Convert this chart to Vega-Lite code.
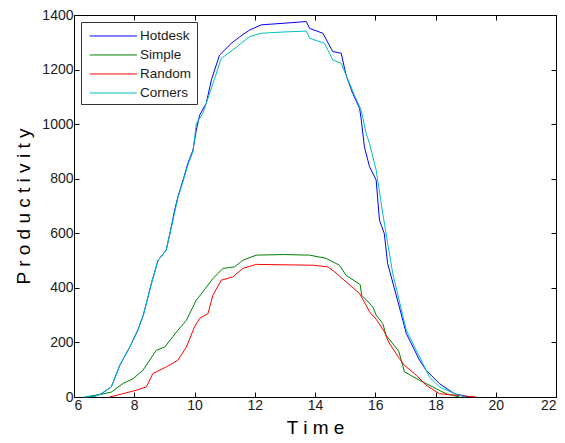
{
  "$schema": "https://vega.github.io/schema/vega-lite/v6.json",
  "width": 482,
  "height": 382,
  "autosize": {"type": "none"},
  "padding": {"left": 74, "top": 15, "right": 9, "bottom": 46},
  "background": "white",
  "config": {
    "font": "Liberation Sans",
    "view": {"stroke": "black", "strokeWidth": 1},
    "axis": {
      "grid": false,
      "domainColor": "black",
      "tickColor": "black",
      "tickSize": -5,
      "labelColor": "#1a1a1a",
      "labelFont": "Liberation Sans",
      "labelFontSize": 14,
      "labelFontWeight": "normal",
      "titleFont": "Liberation Sans",
      "titleFontSize": 19,
      "titleFontWeight": "normal",
      "titleColor": "black"
    },
    "legend": {
      "orient": "none",
      "legendX": 7,
      "legendY": 7,
      "strokeColor": "#333333",
      "fillColor": "white",
      "padding": 5,
      "rowPadding": 4,
      "symbolType": "M-0.6,0.06L5.3,0.06",
      "symbolStrokeWidth": 1,
      "symbolOpacity": 1,
      "symbolSize": 256,
      "labelFont": "Liberation Sans",
      "labelFontSize": 13.5,
      "labelColor": "#1a1a1a",
      "labelOffset": 37
    }
  },
  "data": {
    "values": [
      {"series": "Hotdesk", "t": 6.4, "p": 0},
      {"series": "Hotdesk", "t": 6.7, "p": 3},
      {"series": "Hotdesk", "t": 6.91, "p": 12},
      {"series": "Hotdesk", "t": 7.24, "p": 37},
      {"series": "Hotdesk", "t": 7.52, "p": 116},
      {"series": "Hotdesk", "t": 7.85, "p": 183},
      {"series": "Hotdesk", "t": 8.12, "p": 245},
      {"series": "Hotdesk", "t": 8.3, "p": 300},
      {"series": "Hotdesk", "t": 8.57, "p": 416},
      {"series": "Hotdesk", "t": 8.79, "p": 501},
      {"series": "Hotdesk", "t": 9.06, "p": 538},
      {"series": "Hotdesk", "t": 9.23, "p": 624},
      {"series": "Hotdesk", "t": 9.34, "p": 685},
      {"series": "Hotdesk", "t": 9.45, "p": 734},
      {"series": "Hotdesk", "t": 9.62, "p": 795},
      {"series": "Hotdesk", "t": 9.78, "p": 856},
      {"series": "Hotdesk", "t": 9.95, "p": 905},
      {"series": "Hotdesk", "t": 10.06, "p": 978},
      {"series": "Hotdesk", "t": 10.17, "p": 1033},
      {"series": "Hotdesk", "t": 10.39, "p": 1076},
      {"series": "Hotdesk", "t": 10.56, "p": 1162},
      {"series": "Hotdesk", "t": 10.83, "p": 1253},
      {"series": "Hotdesk", "t": 11.22, "p": 1296},
      {"series": "Hotdesk", "t": 11.5, "p": 1320},
      {"series": "Hotdesk", "t": 11.83, "p": 1345},
      {"series": "Hotdesk", "t": 12.22, "p": 1364},
      {"series": "Hotdesk", "t": 13.0, "p": 1370},
      {"series": "Hotdesk", "t": 13.71, "p": 1376},
      {"series": "Hotdesk", "t": 13.82, "p": 1351},
      {"series": "Hotdesk", "t": 14.26, "p": 1333},
      {"series": "Hotdesk", "t": 14.59, "p": 1266},
      {"series": "Hotdesk", "t": 14.87, "p": 1260},
      {"series": "Hotdesk", "t": 15.03, "p": 1180},
      {"series": "Hotdesk", "t": 15.25, "p": 1113},
      {"series": "Hotdesk", "t": 15.48, "p": 1058},
      {"series": "Hotdesk", "t": 15.53, "p": 1021},
      {"series": "Hotdesk", "t": 15.64, "p": 917},
      {"series": "Hotdesk", "t": 15.81, "p": 844},
      {"series": "Hotdesk", "t": 16.03, "p": 795},
      {"series": "Hotdesk", "t": 16.14, "p": 648},
      {"series": "Hotdesk", "t": 16.3, "p": 599},
      {"series": "Hotdesk", "t": 16.41, "p": 490},
      {"series": "Hotdesk", "t": 16.8, "p": 330},
      {"series": "Hotdesk", "t": 17.03, "p": 233},
      {"series": "Hotdesk", "t": 17.47, "p": 135},
      {"series": "Hotdesk", "t": 17.69, "p": 98},
      {"series": "Hotdesk", "t": 18.13, "p": 49},
      {"series": "Hotdesk", "t": 18.63, "p": 12},
      {"series": "Hotdesk", "t": 19.13, "p": 0},

      {"series": "Simple", "t": 6.35, "p": 0},
      {"series": "Simple", "t": 6.91, "p": 10},
      {"series": "Simple", "t": 7.24, "p": 18},
      {"series": "Simple", "t": 7.62, "p": 49},
      {"series": "Simple", "t": 7.96, "p": 67},
      {"series": "Simple", "t": 8.29, "p": 98},
      {"series": "Simple", "t": 8.73, "p": 171},
      {"series": "Simple", "t": 9.01, "p": 183},
      {"series": "Simple", "t": 9.4, "p": 238},
      {"series": "Simple", "t": 9.73, "p": 281},
      {"series": "Simple", "t": 10.06, "p": 355},
      {"series": "Simple", "t": 10.17, "p": 370},
      {"series": "Simple", "t": 10.61, "p": 434},
      {"series": "Simple", "t": 10.94, "p": 471},
      {"series": "Simple", "t": 11.33, "p": 477},
      {"series": "Simple", "t": 11.6, "p": 501},
      {"series": "Simple", "t": 12.05, "p": 520},
      {"series": "Simple", "t": 12.99, "p": 522},
      {"series": "Simple", "t": 13.82, "p": 520},
      {"series": "Simple", "t": 14.37, "p": 508},
      {"series": "Simple", "t": 14.81, "p": 483},
      {"series": "Simple", "t": 15.03, "p": 446},
      {"series": "Simple", "t": 15.5, "p": 412},
      {"series": "Simple", "t": 15.55, "p": 373},
      {"series": "Simple", "t": 15.92, "p": 330},
      {"series": "Simple", "t": 16.03, "p": 300},
      {"series": "Simple", "t": 16.25, "p": 269},
      {"series": "Simple", "t": 16.36, "p": 226},
      {"series": "Simple", "t": 16.78, "p": 168},
      {"series": "Simple", "t": 16.97, "p": 92},
      {"series": "Simple", "t": 17.47, "p": 61},
      {"series": "Simple", "t": 17.91, "p": 37},
      {"series": "Simple", "t": 18.35, "p": 12},
      {"series": "Simple", "t": 18.8, "p": 0},

      {"series": "Random", "t": 7.18, "p": 0},
      {"series": "Random", "t": 7.62, "p": 12},
      {"series": "Random", "t": 8.07, "p": 25},
      {"series": "Random", "t": 8.4, "p": 37},
      {"series": "Random", "t": 8.62, "p": 86},
      {"series": "Random", "t": 9.06, "p": 110},
      {"series": "Random", "t": 9.45, "p": 135},
      {"series": "Random", "t": 9.73, "p": 183},
      {"series": "Random", "t": 10.0, "p": 257},
      {"series": "Random", "t": 10.17, "p": 288},
      {"series": "Random", "t": 10.45, "p": 306},
      {"series": "Random", "t": 10.61, "p": 373},
      {"series": "Random", "t": 10.89, "p": 428},
      {"series": "Random", "t": 11.27, "p": 440},
      {"series": "Random", "t": 11.6, "p": 471},
      {"series": "Random", "t": 12.05, "p": 486},
      {"series": "Random", "t": 13.93, "p": 483},
      {"series": "Random", "t": 14.43, "p": 477},
      {"series": "Random", "t": 14.65, "p": 459},
      {"series": "Random", "t": 15.03, "p": 422},
      {"series": "Random", "t": 15.48, "p": 379},
      {"series": "Random", "t": 15.7, "p": 336},
      {"series": "Random", "t": 15.81, "p": 312},
      {"series": "Random", "t": 16.03, "p": 285},
      {"series": "Random", "t": 16.3, "p": 240},
      {"series": "Random", "t": 16.45, "p": 200},
      {"series": "Random", "t": 16.8, "p": 141},
      {"series": "Random", "t": 16.97, "p": 116},
      {"series": "Random", "t": 17.36, "p": 80},
      {"series": "Random", "t": 17.69, "p": 43},
      {"series": "Random", "t": 18.13, "p": 12},
      {"series": "Random", "t": 18.8, "p": 5},
      {"series": "Random", "t": 19.35, "p": 0},

      {"series": "Corners", "t": 6.35, "p": 0},
      {"series": "Corners", "t": 6.7, "p": 3},
      {"series": "Corners", "t": 6.91, "p": 12},
      {"series": "Corners", "t": 7.24, "p": 37},
      {"series": "Corners", "t": 7.52, "p": 116},
      {"series": "Corners", "t": 7.85, "p": 183},
      {"series": "Corners", "t": 8.12, "p": 245},
      {"series": "Corners", "t": 8.3, "p": 300},
      {"series": "Corners", "t": 8.57, "p": 416},
      {"series": "Corners", "t": 8.79, "p": 501},
      {"series": "Corners", "t": 9.06, "p": 538},
      {"series": "Corners", "t": 9.23, "p": 620},
      {"series": "Corners", "t": 9.45, "p": 730},
      {"series": "Corners", "t": 9.62, "p": 790},
      {"series": "Corners", "t": 9.78, "p": 850},
      {"series": "Corners", "t": 9.95, "p": 900},
      {"series": "Corners", "t": 10.06, "p": 1003},
      {"series": "Corners", "t": 10.28, "p": 1040},
      {"series": "Corners", "t": 10.67, "p": 1168},
      {"series": "Corners", "t": 10.89, "p": 1241},
      {"series": "Corners", "t": 11.27, "p": 1272},
      {"series": "Corners", "t": 11.83, "p": 1321},
      {"series": "Corners", "t": 12.22, "p": 1333},
      {"series": "Corners", "t": 13.0, "p": 1338},
      {"series": "Corners", "t": 13.71, "p": 1341},
      {"series": "Corners", "t": 13.82, "p": 1315},
      {"series": "Corners", "t": 14.32, "p": 1296},
      {"series": "Corners", "t": 14.59, "p": 1235},
      {"series": "Corners", "t": 14.87, "p": 1223},
      {"series": "Corners", "t": 15.03, "p": 1180},
      {"series": "Corners", "t": 15.31, "p": 1106},
      {"series": "Corners", "t": 15.53, "p": 1052},
      {"series": "Corners", "t": 15.7, "p": 966},
      {"series": "Corners", "t": 15.81, "p": 929},
      {"series": "Corners", "t": 16.03, "p": 832},
      {"series": "Corners", "t": 16.25, "p": 672},
      {"series": "Corners", "t": 16.58, "p": 453},
      {"series": "Corners", "t": 17.03, "p": 245},
      {"series": "Corners", "t": 17.47, "p": 147},
      {"series": "Corners", "t": 17.8, "p": 73},
      {"series": "Corners", "t": 18.13, "p": 37},
      {"series": "Corners", "t": 18.68, "p": 10},
      {"series": "Corners", "t": 19.0, "p": 0}
    ]
  },
  "layer": [
    {
      "mark": {"type": "line", "strokeWidth": 1, "interpolate": "linear"},
      "encoding": {
        "x": {
          "field": "t", "type": "quantitative",
          "scale": {"domain": [6, 22], "nice": false, "zero": false},
          "axis": {"values": [6, 8, 10, 12, 14, 16, 18, 20, 22], "format": "d", "title": "T i m e", "labelPadding": 6, "titlePadding": 6}
        },
        "y": {
          "field": "p", "type": "quantitative",
          "scale": {"domain": [0, 1400], "nice": false},
          "axis": {"values": [0, 200, 400, 600, 800, 1000, 1200, 1400], "format": "d", "title": "P r o d u c t i v i t y", "labelPadding": 6, "titlePadding": 8}
        },
        "color": {
          "field": "series", "type": "nominal",
          "scale": {"domain": ["Hotdesk", "Simple", "Random", "Corners"], "range": ["#0000ff", "#008000", "#ff0000", "#00bfbf"]},
          "legend": {
            "title": null,
            "encode": {
              "symbols": {
                "update": {
                  "stroke": {"scale": "color", "field": "value"},
                  "fill": {"value": "transparent"},
                  "strokeWidth": {"value": 1},
                  "opacity": {"value": 1}
                }
              }
            }
          }
        },
        "order": {"field": "t", "type": "quantitative"}
      }
    },
    {
      "mark": {"type": "point", "opacity": 0},
      "encoding": {
        "x": {"field": "t", "type": "quantitative", "axis": {"orient": "top", "values": [6, 8, 10, 12, 14, 16, 18, 20, 22], "labels": false, "title": null}},
        "y": {"field": "p", "type": "quantitative", "axis": {"orient": "right", "values": [0, 200, 400, 600, 800, 1000, 1200, 1400], "labels": false, "title": null}}
      }
    }
  ],
  "resolve": {"axis": {"x": "independent", "y": "independent"}}
}
